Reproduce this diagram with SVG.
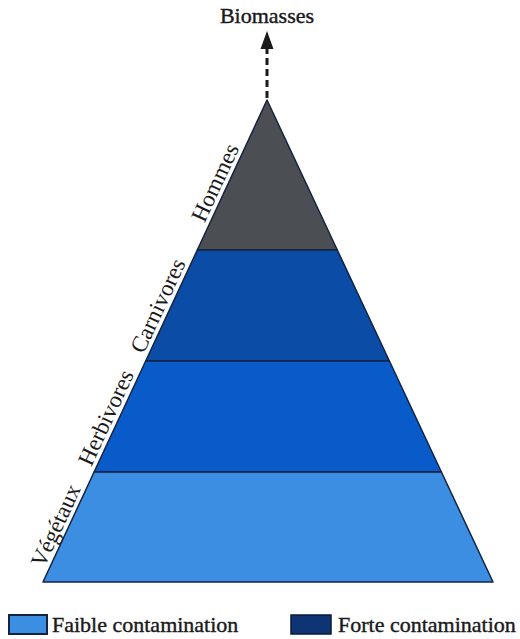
<svg xmlns="http://www.w3.org/2000/svg" width="520" height="639" viewBox="0 0 520 639">
<style>
.lbl{font-family:"Liberation Serif","Times New Roman",serif;font-size:23px;fill:#1a1a1a;text-anchor:middle}
.leg{font-family:"Liberation Serif","Times New Roman",serif;font-size:22px;fill:#1a1a1a;stroke:#1a1a1a;stroke-width:0.4}
.layer{stroke:#14233f;stroke-width:1.5;stroke-linejoin:round}
</style>
<rect width="520" height="639" fill="#ffffff"/>
<g id="connectors">
<line x1="267" y1="98" x2="267" y2="48" stroke="#1a1a1a" stroke-width="3" stroke-dasharray="7,4"/>
<polygon points="267,31 260.5,49 273.5,49" fill="#1a1a1a"/>
</g>
<g id="biomasses"><text x="267" y="23" class="leg" text-anchor="middle" font-size="21">Biomasses</text></g>
<g id="hommes">
<polygon class="layer" points="267,100 337.3,250 197.3,250" fill="#4b4e53"/>
<text class="lbl" transform="translate(222,185.8) rotate(-65.07)">Hommes</text>
</g>
<g id="carnivores">
<polygon class="layer" points="197.3,250 337.3,250 389.4,361 145.7,361" fill="#0b4ca6"/>
<text class="lbl" transform="translate(164.8,308.8) rotate(-65.07)">Carnivores</text>
</g>
<g id="herbivores">
<polygon class="layer" points="145.7,361 389.4,361 441.4,472 94.1,472" fill="#0a5bca"/>
<text class="lbl" transform="translate(112.8,420.8) rotate(-65.07)">Herbivores</text>
</g>
<g id="vegetaux">
<polygon class="layer" points="94.1,472 441.4,472 493,582 43,582" fill="#3b8ee2"/>
<text class="lbl" transform="translate(62.6,528.8) rotate(-65.07)">Végétaux</text>
</g>
<g id="legend-faible">
<rect x="9" y="615" width="38" height="19" fill="#3b8ee2" stroke="#14233f" stroke-width="2"/>
<text class="leg" x="52" y="632">Faible contamination</text>
</g>
<g id="legend-forte">
<rect x="291" y="615" width="40" height="19" fill="#0f3474" stroke="#0a1a3a" stroke-width="1.5"/>
<text class="leg" x="338" y="632">Forte contamination</text>
</g>
</svg>
